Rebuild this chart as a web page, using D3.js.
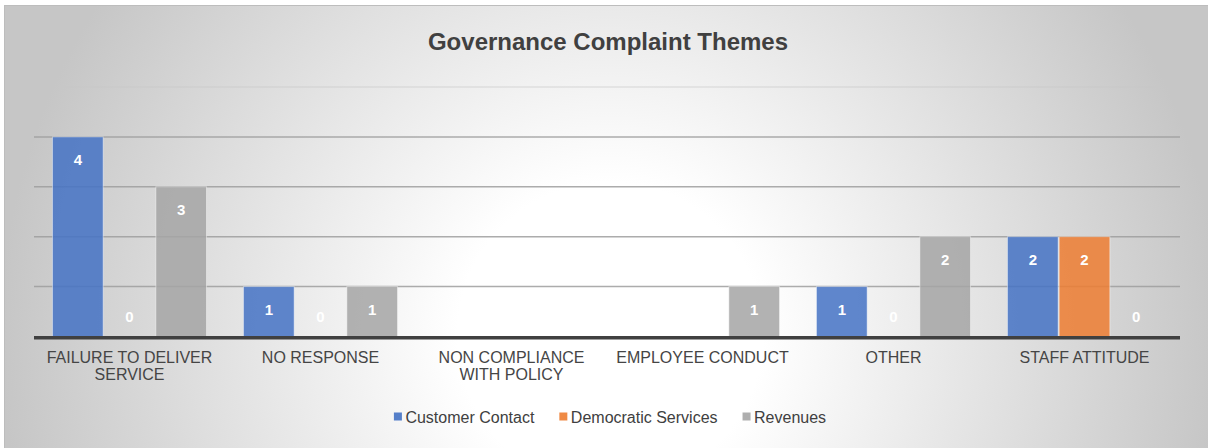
<!DOCTYPE html>
<html><head><meta charset="utf-8">
<script src="https://cdn.jsdelivr.net/npm/d3@7"></script>
<style>
html,body{margin:0;padding:0;background:#fff;}
svg{display:block;font-family:Arial,"Liberation Sans",sans-serif;}
</style></head>
<body>
<svg id="chart" width="1208" height="448"></svg>
<script>
const title = "Governance Complaint Themes";
const categories = ["FAILURE TO DELIVER SERVICE","NO RESPONSE","NON COMPLIANCE WITH POLICY","EMPLOYEE CONDUCT","OTHER","STAFF ATTITUDE"];
const seriesNames = ["Customer Contact","Democratic Services","Revenues"];
const customerContact = [4, 1, null, null, 1, 2];
const democraticServices = [0, 0, null, null, 0, 2];
const revenues = [3, 1, null, 1, 2, 0];
const yTicks = [1, 2, 3, 4, 5];
const colors = ["#4472C4", "#ED7D31", "#A5A5A5"];

const seriesValues = [customerContact, democraticServices, revenues];
const svg = d3.select("#chart");
const W = 1208, H = 448;

// background
const defs = svg.append("defs");
const rg = defs.append("radialGradient").attr("id","bg").attr("gradientUnits","userSpaceOnUse")
  .attr("cx",610).attr("cy",335).attr("r",610);
rg.append("stop").attr("offset","0").attr("stop-color","#ffffff");
rg.append("stop").attr("offset","0.25").attr("stop-color","#ffffff");
rg.append("stop").attr("offset","1").attr("stop-color","#c6c6c6");
svg.append("rect").attr("x",4.5).attr("y",5.5).attr("width",W).attr("height",H)
  .attr("fill","url(#bg)").attr("stroke","#bdbdbd").attr("stroke-width",1);

const plotLeft = 34, plotRight = 1180;
const x0 = d3.scaleBand().domain(categories).range([plotLeft, plotRight]).paddingInner(0).paddingOuter(0);
const bw = x0.bandwidth();
const pad = bw * 0.094;
const x1 = d3.scaleBand().domain(seriesNames).range([pad, bw - pad]).padding(0);
const y = d3.scaleLinear().domain([0, 5]).range([336.5, 87]);

// gridlines
svg.append("g").selectAll("line").data(yTicks).join("line")
  .attr("x1", plotLeft).attr("x2", plotRight)
  .attr("y1", d => y(d)).attr("y2", d => y(d))
  .attr("stroke", d => d === 5 ? "#c8c8c8" : "#9e9e9e")
  .attr("stroke-opacity", d => d === 5 ? 0.45 : 0.85)
  .attr("stroke-width", 1.5);

// bars
const barData = [];
categories.forEach((c, ci) => {
  seriesNames.forEach((s, si) => {
    const v = seriesValues[si][ci];
    if (v !== null && v !== undefined) barData.push({c, s, si, v});
  });
});
const gBars = svg.append("g");
gBars.selectAll("rect").data(barData.filter(d => d.v > 0)).join("rect")
  .attr("x", d => x0(d.c) + x1(d.s) + 0.5)
  .attr("width", x1.bandwidth() - 1)
  .attr("y", d => y(d.v))
  .attr("height", d => y(0) - y(d.v))
  .attr("fill", d => colors[d.si])
  .attr("fill-opacity", 0.85)
  .attr("stroke", "#ffffff").attr("stroke-opacity", 0.45).attr("stroke-width", 1);

// value labels
svg.append("g").selectAll("text").data(barData).join("text")
  .attr("x", d => x0(d.c) + x1(d.s) + x1.bandwidth() / 2)
  .attr("y", d => Math.min(y(d.v) + 28, y(0) - 15))
  .attr("text-anchor", "middle")
  .attr("fill", "#ffffff")
  .attr("font-weight", "bold")
  .attr("font-size", "15px")
  .text(d => d.v);

// baseline axis
const xAxis = d3.axisBottom(x0).tickSize(0).tickPadding(0);
const gx = svg.append("g").attr("transform", `translate(0,${y(0)})`).call(xAxis);
gx.select(".domain").remove();
svg.append("line").attr("x1", plotLeft).attr("x2", plotRight)
  .attr("y1", y(0) + 1.2).attr("y2", y(0) + 1.2)
  .attr("stroke", "#404040").attr("stroke-width", 3.5);

// wrap category labels
gx.selectAll(".tick text").each(function(d) {
  const t = d3.select(this);
  t.text(null).attr("font-size", "16px").attr("fill", "#454545")
    .attr("font-family", 'Arial,"Liberation Sans",sans-serif').attr("y", 0).attr("dy", null);
  const words = d.split(" ");
  let lines = [], cur = [];
  const probe = t.append("tspan");
  words.forEach(w => {
    const test = cur.concat([w]).join(" ");
    probe.text(test);
    if (probe.node().getComputedTextLength() > bw - 4 && cur.length) {
      lines.push(cur.join(" ")); cur = [w];
    } else cur.push(w);
  });
  lines.push(cur.join(" "));
  probe.remove();
  lines.forEach((ln, i) => {
    t.append("tspan").attr("x", 0).attr("y", 26 + i * 17.5).text(ln);
  });
});

// title
svg.append("text").attr("x", 608).attr("y", 50).attr("text-anchor", "middle")
  .attr("font-size", "24px").attr("font-weight", "bold").attr("fill", "#404040")
  .text(title);

// legend
const legend = svg.append("g");
let lx = 0;
seriesNames.forEach((s, i) => {
  const g = legend.append("g").attr("transform", `translate(${lx},0)`);
  g.append("rect").attr("x", 0).attr("y", -10.5).attr("width", 8).attr("height", 8)
    .attr("fill", colors[i]).attr("fill-opacity", 0.9);
  const tx = g.append("text").attr("x", 11.5).attr("y", 0).attr("font-size", "16px")
    .attr("fill", "#404040").text(s);
  const w = 11.5 + tx.node().getComputedTextLength();
  lx += w + 25;
});
const totalW = lx - 25;
legend.attr("transform", `translate(${610 - totalW / 2},423)`);
</script>
</body></html>
